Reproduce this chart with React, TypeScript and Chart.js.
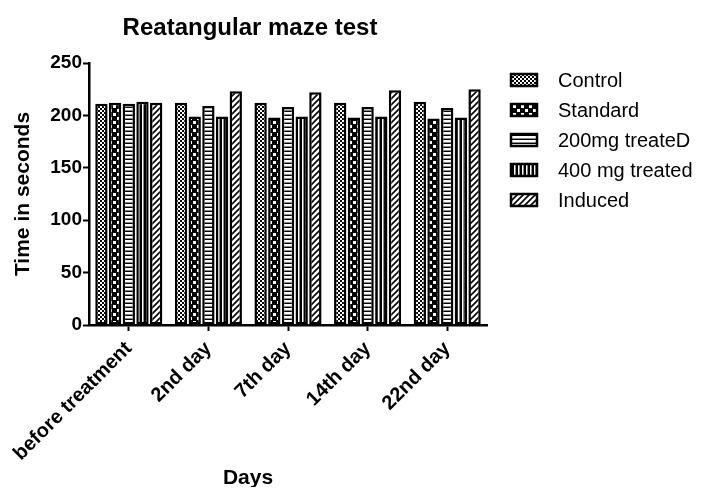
import React, { useEffect, useRef } from "react";
import { Chart, registerables } from "chart.js";

Chart.register(...registerables);

const categories = ["before treatment", "2nd day", "7th day", "14th day", "22nd day"];
const seriesNames = ["Control", "Standard", "200mg treateD", "400 mg treated", "Induced"];
const control = [211, 212, 212, 212, 213];
const standard = [212, 199, 198, 198, 197];
const mg200 = [211, 209, 208, 208, 207];
const mg400 = [213, 199, 199, 199, 198];
const induced = [212, 223, 222, 224, 225];
const patternKinds = ["control", "standard", "mg200", "mg400", "induced"];
const chartTitle = "Reatangular maze test";
const xTitle = "Days";
const yTitle = "Time in seconds";

const FONT = "'Liberation Sans', Arial, sans-serif";

function makePattern(kind: string): CanvasPattern {
  const c = document.createElement("canvas");
  let w = 4;
  let h = 4;
  if (kind === "standard") { w = 8; h = 8; }
  if (kind === "induced") { w = 6; h = 6; }
  c.width = w;
  c.height = h;
  const g = c.getContext("2d") as CanvasRenderingContext2D;
  g.fillStyle = "#fff";
  g.fillRect(0, 0, w, h);
  if (kind === "control") {
    g.fillStyle = "#000";
    g.fillRect(0, 0, 2, 2);
    g.fillRect(2, 2, 2, 2);
  } else if (kind === "standard") {
    g.fillStyle = "#000";
    g.fillRect(0, 0, 8, 8);
    g.fillStyle = "#fff";
    g.fillRect(1, 1, 3, 3);
    g.fillRect(5, 5, 3, 3);
  } else if (kind === "mg200") {
    g.fillStyle = "#888";
    g.fillRect(0, 2, 4, 1);
    g.fillStyle = "#000";
    g.fillRect(0, 3, 4, 1);
  } else if (kind === "mg400") {
    g.fillStyle = "#000";
    g.fillRect(0, 0, 2, 4);
    g.fillStyle = "#888";
    g.fillRect(3, 0, 1, 4);
  } else if (kind === "induced") {
    g.strokeStyle = "#000";
    g.lineWidth = 1.6;
    g.beginPath();
    g.moveTo(-1, 7); g.lineTo(7, -1);
    g.moveTo(-4, 4); g.lineTo(4, -4);
    g.moveTo(2, 10); g.lineTo(10, 2);
    g.stroke();
  }
  return g.createPattern(c, "repeat") as CanvasPattern;
}

export default function App() {
  const ref = useRef<HTMLCanvasElement | null>(null);

  useEffect(() => {
    if (!ref.current) return;
    const patterns = patternKinds.map(makePattern);
    const values = [control, standard, mg200, mg400, induced];

    const textPlugin = {
      id: "customText",
      afterDraw(chart: any) {
        const ctx = chart.ctx as CanvasRenderingContext2D;
        ctx.save();
        ctx.fillStyle = "#000";
        ctx.textAlign = "center";
        ctx.textBaseline = "middle";
        ctx.font = `bold 24px ${FONT}`;
        ctx.fillText(chartTitle, 242, 20);
        ctx.font = `bold 21px ${FONT}`;
        ctx.fillText(xTitle, 240, 470);
        // legend
        ctx.textAlign = "left";
        ctx.font = `20px ${FONT}`;
        seriesNames.forEach((name, i) => {
          const cy = 72 + i * 30;
          ctx.fillStyle = patterns[i];
          ctx.fillRect(503, cy - 6, 26, 12);
          ctx.strokeStyle = "#000";
          ctx.lineWidth = 2.5;
          ctx.strokeRect(503, cy - 6, 26, 12);
          ctx.fillStyle = "#000";
          ctx.fillText(name, 550, cy + 1);
        });
        ctx.restore();
      },
    };

    const chart = new Chart(ref.current, {
      type: "bar",
      data: {
        labels: categories,
        datasets: seriesNames.map((name, i) => ({
          label: name,
          data: values[i],
          backgroundColor: patterns[i] as any,
          borderColor: "#000",
          borderWidth: 2.5,
          borderSkipped: false,
          categoryPercentage: 0.86,
          barPercentage: 0.9,
        })),
      },
      options: {
        animation: false,
        responsive: true,
        maintainAspectRatio: false,
        layout: { padding: { top: 55, right: 207, left: 0, bottom: 0 } },
        plugins: {
          legend: { display: false },
          title: { display: false },
          tooltip: { enabled: false },
        },
        scales: {
          x: {
            offset: true,
            grid: {
              display: true,
              offset: false,
              drawOnChartArea: false,
              drawTicks: true,
              tickLength: 6,
              tickWidth: 2,
              tickColor: "#000",
            },
            border: { display: true, width: 2.5, color: "#000" },
            ticks: {
              color: "#000",
              font: { family: FONT, size: 20, weight: "bold" },
              minRotation: 45,
              maxRotation: 45,
              autoSkip: false,
              padding: 6,
            },
            afterFit: (s: any) => {
              s.height = 162;
              s.paddingLeft = 0;
              s.paddingRight = 0;
            },
          },
          y: {
            min: 0,
            max: 250,
            grid: {
              display: true,
              drawOnChartArea: false,
              drawTicks: true,
              tickLength: 6,
              tickWidth: 2,
              tickColor: "#000",
            },
            border: { display: true, width: 2.5, color: "#000" },
            ticks: {
              stepSize: 50,
              color: "#000",
              font: { family: FONT, size: 19, weight: "bold" },
              padding: 1,
            },
            title: {
              display: true,
              text: yTitle,
              color: "#000",
              font: { family: FONT, size: 21, weight: "bold" },
              padding: { top: 3, bottom: 0 },
            },
            afterFit: (s: any) => { s.width = 81; },
          },
        },
      },
      plugins: [textPlugin],
    });
    return () => chart.destroy();
  }, []);

  return (
    <div style={{ position: "relative", width: "686px", height: "479px" }}>
      <canvas ref={ref} />
    </div>
  );
}
